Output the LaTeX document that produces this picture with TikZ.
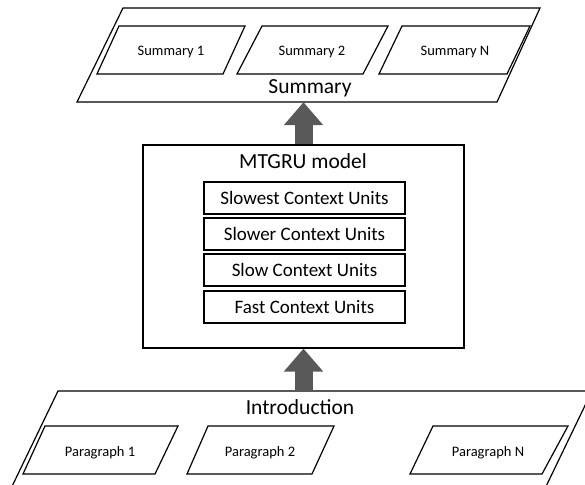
\documentclass[tikz,border=0pt]{standalone}
\usepackage{fontspec}
\setmainfont{Carlito}
\usetikzlibrary{arrows.meta}
\definecolor{arrowgray}{HTML}{595959}
\begin{document}
\begin{tikzpicture}[x=1pt,y=-1pt,
  shapeline/.style={draw=black, line width=1.2pt, line join=miter},
  biglabel/.style={font=\fontsize{21.5}{24}\selectfont, anchor=base, inner sep=0},
  smalllabel/.style={font=\fontsize{14.5}{16}\selectfont, anchor=base, inner sep=0},
  unitbox/.style={draw, line width=1.2pt, minimum width=201pt, minimum height=32pt, inner sep=0,
    font=\fontsize{19}{21}\selectfont, text height=12.2pt, text depth=0pt},
  areanode/.style={inner sep=0},
  blockarrow/.style={draw=arrowgray, line width=18pt, -{Triangle[width=38pt,length=23pt]}}]
\useasboundingbox (0,0) rectangle (585,484);
\begin{scope}
\clip (0,0) rectangle (585,484);

% ---- Summary area ----
\node[areanode, minimum width=463pt, minimum height=94pt] (summary) at (309,55) {};
\draw[shapeline] (123,8) -- (540,8) -- (497,102) -- (77,102) -- cycle;
\draw[shapeline] (119,26) -- (245,26) -- (223,74) -- (97,74) -- cycle;
\draw[shapeline] (262,26) -- (388,26) -- (363,74) -- (237,74) -- cycle;
\draw[shapeline] (402,26) -- (530,26) -- (507,74) -- (379,74) -- cycle;
\node[smalllabel] (sum1) at (171,56) {Summary 1};
\node[smalllabel] (sum2) at (312,56) {Summary 2};
\node[smalllabel] (sumN) at (455,56) {Summary N};
\node[biglabel] (sumlabel) at (310,94) {Summary};

% ---- MTGRU model ----
\node[draw, line width=1.2pt, minimum width=321pt, minimum height=203pt, inner sep=0] (mtgru) at (303.5,246.5) {};
\node[biglabel] (mtgrutitle) at (303,168) {MTGRU model};
\node[unitbox] (u1) at (304.5,198) {Slowest Context Units};
\node[unitbox] (u2) at (304.5,234) {Slower Context Units};
\node[unitbox] (u3) at (304.5,270) {Slow Context Units};
\node[unitbox] (u4) at (304.5,307) {Fast Context Units};

% ---- Introduction area ----
\node[areanode, minimum width=500pt, minimum height=100pt] (intro) at (300,441) {};
\draw[shapeline] (58,391) -- (592,391) -- (538,503) -- (4,503) -- cycle;
\draw[shapeline] (45,426) -- (178,426) -- (155,474) -- (23,474) -- cycle;
\draw[shapeline] (208,426) -- (334,426) -- (312,474) -- (187,474) -- cycle;
\draw[shapeline] (433,426) -- (568,426) -- (542,474) -- (410,474) -- cycle;
\node[biglabel] (introlabel) at (300,414) {Introduction};
\node[smalllabel] (par1) at (100,456) {Paragraph 1};
\node[smalllabel] (par2) at (260,456) {Paragraph 2};
\node[smalllabel] (parN) at (488,456) {Paragraph N};

% ---- block arrows ----
\draw[blockarrow] (mtgru.north) -- (mtgru.north |- summary.south);
\draw[blockarrow] (mtgru.south |- intro.north) -- (mtgru.south);
\end{scope}
\end{tikzpicture}
\end{document}
